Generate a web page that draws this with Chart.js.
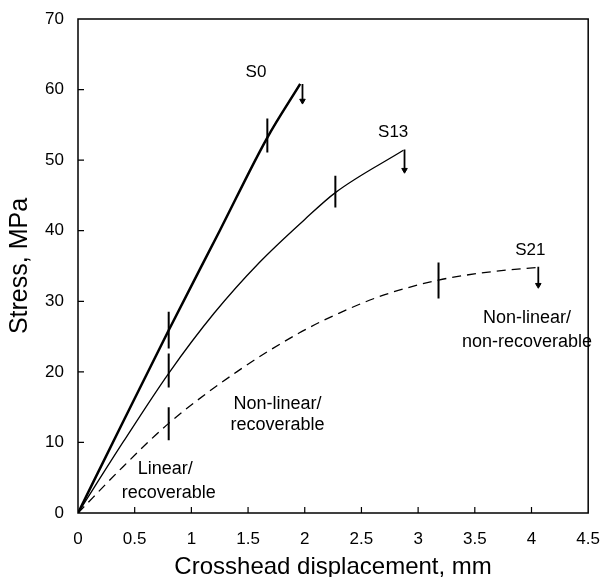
<!DOCTYPE html>
<html>
<head>
<meta charset="utf-8">
<script src="https://cdn.jsdelivr.net/npm/chart.js@4.4.0/dist/chart.umd.min.js"></script>
<style>
  html, body { margin: 0; padding: 0; background: #fff; }
  #wrap { width: 608px; height: 577px; }
</style>
</head>
<body>
<div id="wrap"><canvas id="stress-chart"></canvas></div>
<script>
// Start data
var xTicks = [0, 0.5, 1, 1.5, 2, 2.5, 3, 3.5, 4, 4.5];
var xTickLabels = ['0', '0.5', '1', '1.5', '2', '2.5', '3', '3.5', '4', '4.5'];
var yTicks = [0, 10, 20, 30, 40, 50, 60, 70];

// S0 curve
var s0X = [0, 0.4, 0.8, 1.25, 1.67, 1.96];
var s0Y = [0, 13.0, 25.9, 40.0, 53.2, 60.8];
// S13 curve
var s13X = [0, 0.4, 0.8, 1.2, 1.6, 2.0, 2.27, 2.87];
var s13Y = [0, 10.1, 19.8, 28.3, 35.5, 41.6, 45.4, 51.4];
// S21 curve
var s21X = [0, 0.4, 0.8, 1.4, 1.95, 2.3, 2.7, 3.18, 3.6, 4.05];
var s21Y = [0, 6.6, 12.7, 20.0, 25.5, 28.3, 30.9, 33.0, 34.1, 34.8];

// vertical bars marking the region limits
var markX = [0.8, 1.67, 0.8, 2.27, 0.8, 3.18];
var markLo = [23.3, 51.1, 17.8, 43.3, 10.3, 30.4];
var markHi = [28.5, 55.9, 22.6, 47.8, 15.0, 35.5];

// failure arrows at the curve ends
var arrowX = [1.98, 2.88, 4.06];
var arrowTop = [60.8, 51.5, 34.9];
var arrowBottom = [58.4, 48.6, 32.3];

// text notes
var labelText = ['S0', 'S13', 'S21'];
var labelX = [1.57, 2.78, 3.99];
var labelY = [62.4, 53.9, 37.2];
var noteText = ['Non-linear/', 'non-recoverable', 'Non-linear/', 'recoverable', 'Linear/', 'recoverable'];
var noteX = [3.96, 3.96, 1.76, 1.76, 0.77, 0.8];
var noteY = [27.6, 24.2, 15.5, 12.5, 6.2, 2.9];
// End data

function pts(xs, ys) {
  var out = [];
  for (var i = 0; i < xs.length; i++) out.push({ x: xs[i], y: ys[i] });
  return out;
}

var FONT = "'Liberation Sans', Arial, Helvetica, sans-serif";

var datasets = [
  { data: pts(s0X, s0Y), borderWidth: 2.5 },
  { data: pts(s13X, s13Y), borderWidth: 1.3 },
  { data: pts(s21X, s21Y), borderWidth: 1.3, borderDash: [9, 6] }
];
datasets.forEach(function (d) {
  d.showLine = true;
  d.borderColor = '#000';
  d.pointRadius = 0;
  d.cubicInterpolationMode = 'monotone';
});

for (var i = 0; i < markX.length; i++) {
  datasets.push({
    data: [{ x: markX[i], y: markLo[i] }, { x: markX[i], y: markHi[i] }],
    showLine: true, borderColor: '#000', borderWidth: 2, pointRadius: 0
  });
}
for (var j = 0; j < arrowX.length; j++) {
  datasets.push({
    data: [{ x: arrowX[j], y: arrowTop[j] }, { x: arrowX[j], y: arrowBottom[j] }],
    showLine: true, borderColor: '#000', borderWidth: 1.8,
    pointRadius: [0, 3.2], pointStyle: 'triangle', rotation: 180,
    pointBackgroundColor: '#000', pointBorderColor: '#000', pointBorderWidth: 1
  });
}

// frame, inward ticks and text notes
var framePlugin = {
  id: 'frame',
  afterDraw: function (chart) {
    var ctx = chart.ctx, a = chart.chartArea;
    var xs = chart.scales.x, ys = chart.scales.y;
    ctx.save();
    ctx.strokeStyle = '#000';
    ctx.lineWidth = 1.5;
    ctx.strokeRect(a.left, a.top, a.right - a.left, a.bottom - a.top);
    ctx.lineWidth = 1.2;
    ctx.beginPath();
    xTicks.forEach(function (v) {
      if (v <= 0 || v >= 4.5) return;
      var px = xs.getPixelForValue(v);
      ctx.moveTo(px, a.bottom);
      ctx.lineTo(px, a.bottom - 6);
    });
    yTicks.forEach(function (v) {
      if (v <= 0 || v >= 70) return;
      var py = ys.getPixelForValue(v);
      ctx.moveTo(a.left, py);
      ctx.lineTo(a.left + 6, py);
    });
    ctx.stroke();

    ctx.fillStyle = '#000';
    ctx.textAlign = 'center';
    ctx.textBaseline = 'middle';
    ctx.font = '17px ' + FONT;
    for (var k = 0; k < labelText.length; k++) {
      ctx.fillText(labelText[k], xs.getPixelForValue(labelX[k]), ys.getPixelForValue(labelY[k]));
    }
    ctx.font = '18px ' + FONT;
    for (var m = 0; m < noteText.length; m++) {
      ctx.fillText(noteText[m], xs.getPixelForValue(noteX[m]), ys.getPixelForValue(noteY[m]));
    }
    ctx.restore();
  }
};

new Chart(document.getElementById('stress-chart'), {
  type: 'scatter',
  data: { datasets: datasets },
  options: {
    responsive: true,
    maintainAspectRatio: false,
    animation: false,
    layout: { padding: { top: 19, right: 14, left: 0, bottom: 0 } },
    plugins: { legend: { display: false }, tooltip: { enabled: false } },
    scales: {
      x: {
        type: 'linear', min: 0, max: 4.5,
        afterBuildTicks: function (s) { s.ticks = xTicks.map(function (v) { return { value: v }; }); },
        afterFit: function (s) { s.height = 64; },
        grid: { display: false },
        border: { display: false },
        ticks: {
          color: '#000', padding: 8, maxRotation: 0,
          font: { family: FONT, size: 17 },
          callback: function (v, i) { return xTickLabels[i]; }
        },
        title: {
          display: true, text: 'Crosshead displacement, mm', color: '#000',
          font: { family: FONT, size: 24, lineHeight: 1 }, padding: { top: 0, bottom: -2 }
        }
      },
      y: {
        type: 'linear', min: 0, max: 70,
        afterBuildTicks: function (s) { s.ticks = yTicks.map(function (v) { return { value: v }; }); },
        afterFit: function (s) { s.width = 78; },
        grid: { display: false },
        border: { display: false },
        ticks: {
          color: '#000', padding: 6,
          font: { family: FONT, size: 17 }
        },
        title: {
          display: true, text: 'Stress, MPa', color: '#000',
          font: { family: FONT, size: 25, lineHeight: 1 }, padding: { top: 8, bottom: 0 }
        }
      }
    }
  },
  plugins: [framePlugin]
});
</script>
</body>
</html>
